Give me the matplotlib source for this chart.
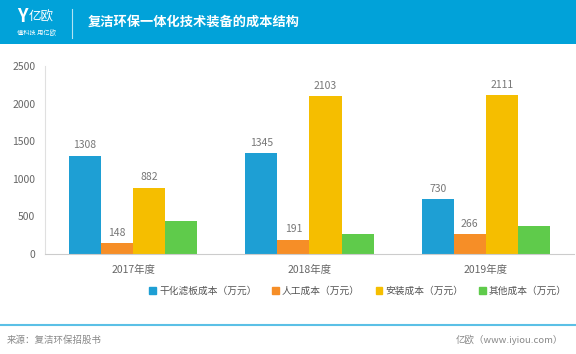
import numpy as np
import matplotlib.pyplot as plt
from matplotlib.patches import Rectangle

plt.rcParams['font.family'] = ['Noto Sans CJK SC', 'DejaVu Sans']

years = ["2017年度", "2018年度", "2019年度"]
series = ["干化滤板成本（万元）", "人工成本（万元）", "安装成本（万元）", "其他成本（万元）"]
filter_cost = [1308, 1345, 730]
labor_cost = [148, 191, 266]
install_cost = [882, 2103, 2111]
other_cost = [440, 260, 370]
values = [filter_cost, labor_cost, install_cost, other_cost]
show_labels = [True, True, True, False]
colors = ["#1E9FD4", "#F68E27", "#F5BE00", "#5FCB4B"]

W, H = 576, 354
fig = plt.figure(figsize=(W / 100, H / 100), dpi=100)

# header band
fig.patches.append(Rectangle((0, 1 - 44 / H), 1, 44 / H, transform=fig.transFigure,
                             facecolor="#01A2D9", edgecolor="none", zorder=0))
fig.text(17 / W, 1 - 17 / H, "Y", color="white", fontsize=13, fontweight="bold",
         ha="left", va="center")
fig.text(29 / W, 1 - 17 / H, "亿欧", color="white", fontsize=9, ha="left", va="center")
fig.text(17 / W, 1 - 33 / H, "懂科技 用亿欧", color="white", fontsize=4.5, ha="left", va="center")
fig.add_artist(plt.Line2D([72 / W, 72 / W], [1 - 38 / H, 1 - 9 / H], color="white",
                          lw=0.8, alpha=0.7, transform=fig.transFigure))
fig.text(88 / W, 1 - 22 / H, "复洁环保一体化技术装备的成本结构", color="white",
         fontsize=9.5, fontweight="bold", ha="left", va="center")

# chart
ax = fig.add_axes([45 / W, 1 - 254 / H, 529 / W, 188 / H])
x = np.arange(len(years))
bw = 32 / 176
for i, (vals, col) in enumerate(zip(values, colors)):
    pos = x + (i - 1.5) * bw
    ax.bar(pos, vals, width=bw, color=col, edgecolor="none", zorder=2)
    if show_labels[i]:
        for xp, v in zip(pos, vals):
            ax.text(xp, v + 70, str(v), ha="center", va="bottom", fontsize=7.5, color="#777777")

ax.set_xlim(-0.5, 2.5)
ax.set_ylim(0, 2500)
ax.set_yticks([0, 500, 1000, 1500, 2000, 2500])
ax.set_xticks(x)
ax.set_xticklabels(years)
ax.tick_params(axis="both", length=0, labelsize=7.5, colors="#666666")
ax.tick_params(axis="x", pad=8)
ax.tick_params(axis="y", pad=7)
for s in ["top", "right"]:
    ax.spines[s].set_visible(False)
ax.spines["left"].set_color("#E0E0E0")
ax.spines["bottom"].set_color("#CCCCCC")

handles = [Rectangle((0, 0), 1, 1, color=c) for c in colors]
fig.legend(handles, series, loc="center", bbox_to_anchor=(358 / W, 1 - 291 / H), ncol=4,
           frameon=False, fontsize=7, handlelength=0.7, handleheight=0.7,
           handletextpad=0.3, columnspacing=1.6, labelcolor="#555555")

# footer
fig.add_artist(plt.Line2D([0, 1], [1 - 325 / H, 1 - 325 / H], color="#5BC0E6", lw=1.5,
                          transform=fig.transFigure))
fig.text(7 / W, 1 - 340 / H, "来源：复洁环保招股书", fontsize=6.8, color="#888888",
         ha="left", va="center")
fig.text(563 / W, 1 - 340 / H, "亿欧（www.iyiou.com）", fontsize=6.8, color="#888888",
         ha="right", va="center")

fig.savefig("out.png", dpi=100)
